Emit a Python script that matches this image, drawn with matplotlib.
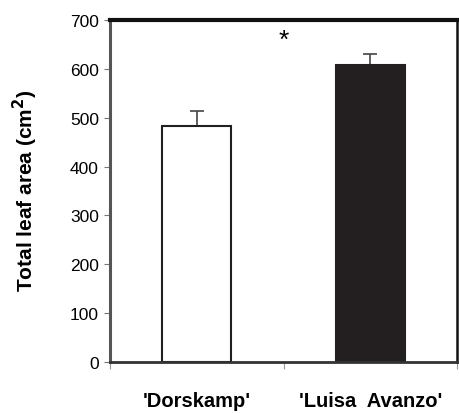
import numpy as np
import matplotlib
matplotlib.use("Agg")
import matplotlib.pyplot as plt

# values
cultivars = ["'Dorskamp'", "'Luisa  Avanzo'"]
leaf_area = [483, 608]
leaf_area_se = [31, 22]
bar_colors = ["white", "#231f20"]
y_ticks = [0, 100, 200, 300, 400, 500, 600, 700]

plt.rcParams['font.family'] = ['Liberation Sans', 'DejaVu Sans']

fig = plt.figure(figsize=(4.59, 4.14), dpi=100)
ax = fig.add_axes([110 / 459, 1 - 363 / 414, 347 / 459, 342 / 414])

x = np.arange(len(cultivars))
ax.bar(x, leaf_area, width=0.40, color=bar_colors, edgecolor="#231f20",
       linewidth=1.5, zorder=2)
ax.errorbar(x, leaf_area, yerr=[[0, 0], leaf_area_se], fmt="none",
            ecolor="#444444", elinewidth=1.2, capsize=5, capthick=1.2, zorder=1)

# significance mark between the bars
ax.text(0.5, 660, "*", ha="center", va="center", fontsize=19)

ax.set_xlim(-0.5, 1.5)
ax.set_ylim(0, 700)
ax.set_yticks(y_ticks)
ax.tick_params(axis="y", direction="out", length=4, color="#777777",
               labelsize=12.5, pad=4)

# category boundaries as major ticks, names as minor ticks
ax.set_xticks([-0.5, 0.5, 1.5])
ax.set_xticklabels([])
ax.tick_params(axis="x", which="major", direction="out", length=5,
               color="#999999")
ax.set_xticks(x, minor=True)
ax.set_xticklabels(cultivars, minor=True, fontsize=14.5, fontweight="bold")
ax.tick_params(axis="x", which="minor", length=0, pad=21)

ax.spines["left"].set_color("#555555")
ax.spines["left"].set_linewidth(2.2)
ax.spines["top"].set_color("#111111")
ax.spines["top"].set_linewidth(3)
ax.spines["right"].set_color("#111111")
ax.spines["right"].set_linewidth(1.8)
ax.spines["bottom"].set_color("#333333")
ax.spines["bottom"].set_linewidth(2)

fig.text(25 / 459, 1 - 191 / 414, "Total leaf area (cm$^\\mathbf{2}$)",
         rotation=90, ha="center", va="center", fontsize=15,
         fontweight="bold")

fig.savefig("out.png", dpi=100)
